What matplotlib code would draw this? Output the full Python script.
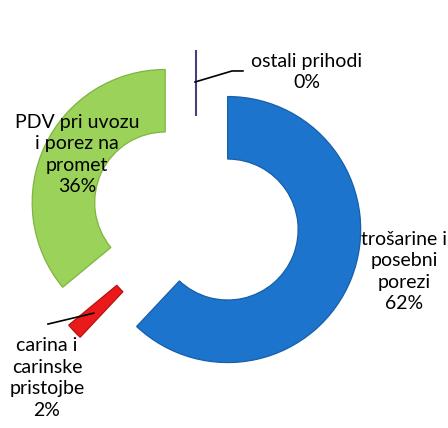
import matplotlib.pyplot as plt
import numpy as np

names = ['trošarine i\nposebni\nporezi', 'carina i\ncarinske\npristojbe',
         'PDV pri uvozu\ni porez na\npromet', 'ostali prihodi']
values = [62, 2, 36, 0]
colors = ['#1C74CD', '#EA1A1A', '#9BD35A', '#4E3D7A']
edges = ['#165FAA', '#B81212', '#7FB440']

explode = 0.256
r_in = 0.53

fig = plt.figure(figsize=(4.48, 4.28), dpi=100)
ax = fig.add_axes([0, 0, 1, 1])

wedges, _ = ax.pie(values, colors=colors, startangle=90, counterclock=False,
                   explode=[explode] * len(values), radius=1.0,
                   wedgeprops=dict(width=1 - r_in, edgecolor='none'))

# darker rim, a hint of the bevel in the original
for w, c in zip(wedges[:3], edges):
    w.set_edgecolor(c)
    w.set_linewidth(0.9)

# the 0% slice is just a line at its angle
frac = np.cumsum(values) / sum(values)
ang = np.deg2rad(90 - 360 * frac[-1])
dx, dy = np.cos(ang) * explode, np.sin(ang) * explode
ax.plot([dx + (r_in - 0.03) * np.cos(ang), dx + np.cos(ang)],
        [dy + (r_in - 0.03) * np.sin(ang), dy + np.sin(ang)],
        color=colors[3], lw=1.5, solid_capstyle='butt')

labels = [n + '\n%d%%' % v for n, v in zip(names, values)]
fs = 14
font = ['Lato', 'DejaVu Sans']
ax.text(1.564, -0.41, labels[0], ha='center', va='center', fontsize=fs,
        family=font, linespacing=1.33)
ax.text(-1.12, -1.21, labels[1], ha='center', va='center', fontsize=fs,
        family=font, linespacing=1.33)
ax.text(-0.895, 0.47, labels[2], ha='center', va='center', fontsize=fs,
        family=font, linespacing=1.33)
ax.text(0.835, 1.09, labels[3], ha='center', va='center', fontsize=fs,
        family=font, linespacing=1.33)

# leader lines
ax.plot([-0.0075, 0.271, 0.353], [1.015, 1.098, 1.098], color='black', lw=1.2)
mid = np.deg2rad(90 - 360 * (frac[0] + frac[1]) / 2)
red_c = np.array([np.cos(mid), np.sin(mid)]) * explode
start = red_c + 0.8 * np.array([np.cos(mid), np.sin(mid)])
ax.plot([start[0], -1.113], [start[1], -0.805], color='black', lw=1.2)

ax.set_xlim(-196 / 133, (448 - 196) / 133)
ax.set_ylim(-(428 - 217) / 133, 217 / 133)
ax.set_aspect('equal')
ax.axis('off')

fig.savefig('out.png', dpi=100)
